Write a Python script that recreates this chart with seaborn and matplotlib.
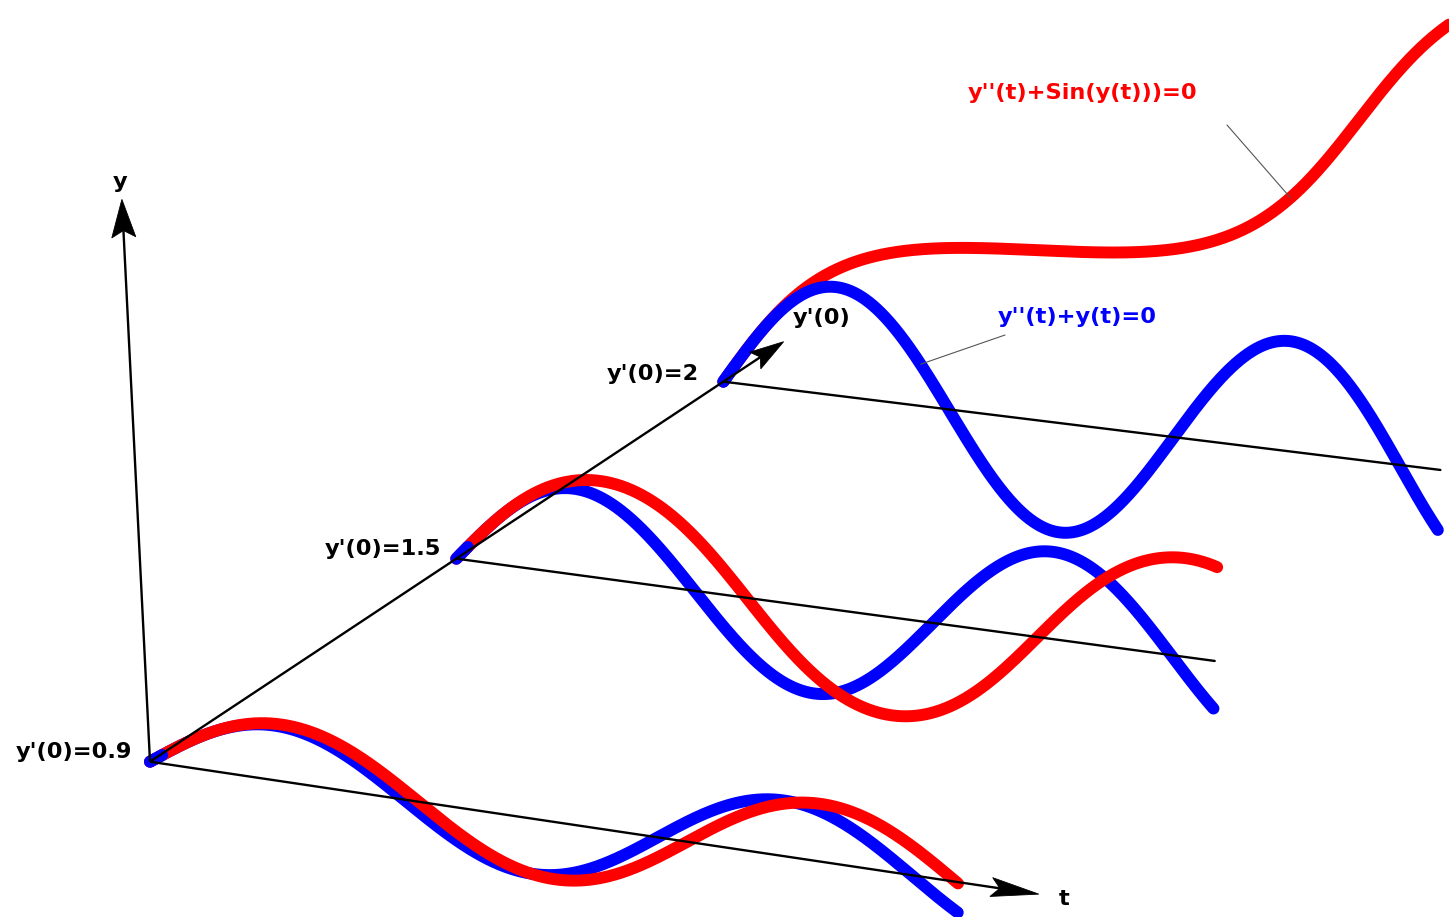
import math

import numpy as np
import pandas as pd
import matplotlib
matplotlib.use("Agg")
import matplotlib.pyplot as plt
from matplotlib.patches import Polygon
import seaborn as sns

# Initial slopes y'(0) of the three solution rows, shared by both equations
initial_slopes = [0.9, 1.5, 2.0]
t_final = 10.0          # solutions are drawn over 0 <= t <= t_final
euler_step = 0.004      # explicit Euler step used for both equations

# Extent of the three coordinate axes (in world units)
t_axis_end = 11.0
y_axis_end = 9.23
slope_axis_end = 2.11

row_labels = [f"y'(0)={v:g}" for v in initial_slopes]
linear_label = "y''(t)+y(t)=0"
pendulum_label = "y''(t)+Sin(y(t)))=0"

RED = "#ff0000"
BLUE = "#0000ff"


def integrate(force, slope, t_end, h):
    """Explicit Euler for y'' = -force(y), y(0)=0, y'(0)=slope."""
    n = int(round(t_end / h))
    t = np.linspace(0.0, n * h, n + 1)
    y = np.zeros(n + 1)
    v = np.zeros(n + 1)
    v[0] = slope
    for i in range(n):
        y[i + 1] = y[i] + h * v[i]
        v[i + 1] = v[i] - h * force(y[i])
    return t, y


def project(t, slope, y):
    """Oblique perspective-like view of the (t, y'(0), y) space onto the page."""
    t = np.asarray(t, dtype=float)
    y = np.asarray(y, dtype=float)
    w = slope - 0.9
    k = w / (1.0 - 0.04 * w)
    ox = 150.0 + 498.3 * k
    oy = 761.7 - 330.3 * k
    st = 80.8 - 8.27 * w
    gx = ox + st * t
    gy = oy + st * (0.149 - 0.0235 * w) * t
    up = 0.754 * st * y
    lean = -0.05 + (gx - 150.0) * 0.05 / 700.0
    return gx + lean * up, gy - up


def arrow(ax, p0, p1, head_len, head_w, lw=1.7):
    p0 = np.asarray(p0, float)
    p1 = np.asarray(p1, float)
    d = (p1 - p0) / np.linalg.norm(p1 - p0)
    nrm = np.array([-d[1], d[0]])
    base = p1 - d * head_len
    notch = p1 - d * head_len * 0.82
    ax.plot([p0[0], notch[0]], [p0[1], notch[1]], color="black", lw=lw,
            solid_capstyle="butt", zorder=5)
    ax.add_patch(Polygon([p1, base + nrm * head_w / 2, notch, base - nrm * head_w / 2],
                         closed=True, facecolor="black", edgecolor="black",
                         lw=0.6, zorder=6))


sns.set_theme(style="white")
plt.rcParams["font.family"] = ["DejaVu Sans"]

fig = plt.figure(figsize=(14.49, 9.17), dpi=100)
ax = fig.add_axes([0, 0, 1, 1])
ax.set_xlim(0, 1449)
ax.set_ylim(917, 0)
ax.set_axis_off()

curve_lw = 8.6
axis_lw = 1.7
text_kw = dict(fontsize=16.2, fontweight="bold")

frames = []
for slope in initial_slopes:
    for name, force in (("linear", lambda y: y), ("pendulum", math.sin)):
        t, y = integrate(force, slope, t_final, euler_step)
        px, py = project(t, slope, y)
        frames.append(pd.DataFrame({"slope": slope, "equation": name, "t": t,
                                    "y": y, "px": px, "py": py}))
curves = pd.concat(frames, ignore_index=True)


def curve(slope, equation):
    return curves[(curves["slope"] == slope) & (curves["equation"] == equation)]


# Red on top in the two nearer rows, blue on top in the far row
for i, slope in enumerate(initial_slopes):
    order = ["linear", "pendulum"] if i < 2 else ["pendulum", "linear"]
    for z, eq in enumerate(order):
        sns.lineplot(data=curve(slope, eq), x="px", y="py", sort=False,
                     estimator=None, color=BLUE if eq == "linear" else RED,
                     linewidth=curve_lw, solid_capstyle="round", ax=ax,
                     zorder=2 + i * 0.1 + z * 0.01, legend=False)
    # the linear solution's starting dot stays visible at each origin
    start = curve(slope, "linear").iloc[:40]
    ax.plot(start["px"], start["py"], color=BLUE, lw=curve_lw,
            solid_capstyle="round", zorder=2 + i * 0.1 + 0.05)

# Coordinate axes
origin = project(0.0, initial_slopes[0], 0.0)
arrow(ax, origin, project(0.0, initial_slopes[0], y_axis_end), 38, 24)
arrow(ax, origin, project(t_axis_end, initial_slopes[0], 0.0), 48, 19)
arrow(ax, origin, project(0.0, slope_axis_end, 0.0), 34, 20)

# t baselines of the farther rows
for slope in initial_slopes[1:]:
    bx, by = project(np.array([0.0, t_final]), slope, np.zeros(2))
    ax.plot(bx, by, color="black", lw=axis_lw, zorder=5)

ax.text(120, 182, "y", ha="center", va="center", color="black", **text_kw)
tx, ty = project(t_axis_end, initial_slopes[0], 0.0)
ax.text(tx + 25, ty + 5, "t", ha="center", va="center", color="black", **text_kw)
sx, sy = project(0.0, slope_axis_end, 0.0)
ax.text(sx + 38, sy - 24, "y'(0)", ha="center", va="center", color="black", **text_kw)

label_offsets = [(-18, -10), (-15, -10), (-24, -8)]
for slope, lab, (dx, dy) in zip(initial_slopes, row_labels, label_offsets):
    ox, oy = project(0.0, slope, 0.0)
    ax.text(ox + dx, oy + dy, lab, ha="right", va="center", color="black", **text_kw)

# Equation labels with leader lines to the far-row curves
far = initial_slopes[-1]
red_far = curve(far, "pendulum")
blue_far = curve(far, "linear")
r_pt = red_far.iloc[int((red_far["t"] - 7.8).abs().argmin())]
b_pt = blue_far.iloc[int((blue_far["t"] - 2.75).abs().argmin())]
ax.plot([1227, r_pt["px"]], [125, r_pt["py"]], color="#555555", lw=0.8, zorder=4)
ax.plot([1005, b_pt["px"]], [335, b_pt["py"]], color="#555555", lw=0.8, zorder=4)
ax.text(968, 93, pendulum_label, ha="left", va="center", color=RED, **text_kw)
ax.text(998, 317, linear_label, ha="left", va="center", color=BLUE, **text_kw)

fig.savefig("out.png", dpi=100, facecolor="white")
